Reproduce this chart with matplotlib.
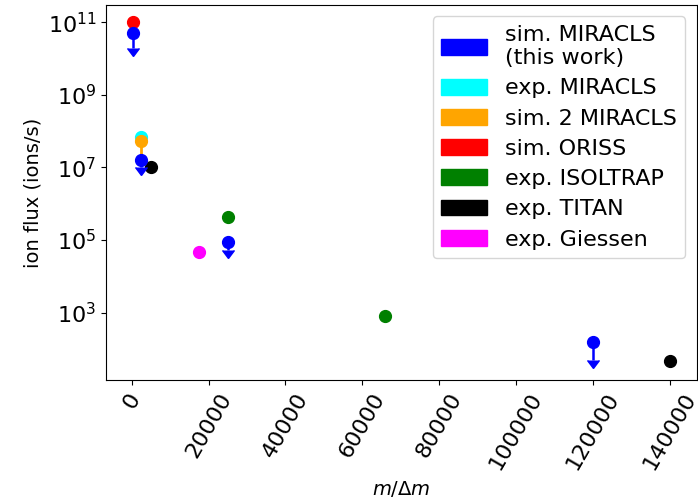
import numpy as np
import matplotlib
matplotlib.use("Agg")
import matplotlib.pyplot as plt
from matplotlib.patches import Patch

# mass resolving power and ion flux for each setup
sim_miracls_x = [300, 2300, 25000, 120000]
sim_miracls_y = [5e10, 1.65e7, 9e4, 150]
sim_miracls_low = [3.0e10, 0.6e7, 3.8e4, 100]   # downward arrows (upper limits)

exp_miracls_x = [2300]
exp_miracls_y = [6.7e7]

sim2_miracls_x = [2300]
sim2_miracls_y = [5.2e7]
sim2_miracls_low = [3.0e7]

sim_oriss_x = [300]
sim_oriss_y = [1e11]

exp_isoltrap_x = [25000, 66000]
exp_isoltrap_y = [4.2e5, 800]

exp_titan_x = [5000, 140000]
exp_titan_y = [1e7, 45]

exp_giessen_x = [17500]
exp_giessen_y = [4.7e4]

labels = ["sim. MIRACLS\n(this work)", "exp. MIRACLS", "sim. 2 MIRACLS",
          "sim. ORISS", "exp. ISOLTRAP", "exp. TITAN", "exp. Giessen"]
colors = ["blue", "cyan", "orange", "red", "green", "black", "magenta"]

fig = plt.figure(figsize=(6.98, 5.03), dpi=100)
ax = fig.add_axes([0.152, 0.245, 0.846, 0.745])

ms = 8.5
ax.plot(sim_oriss_x, sim_oriss_y, "o", color="red", ms=ms)
ax.plot(exp_miracls_x, exp_miracls_y, "o", color="cyan", ms=ms)
ax.errorbar(sim2_miracls_x, sim2_miracls_y,
            yerr=[sim2_miracls_low, np.zeros(1)],
            fmt="o", color="orange", ms=ms, elinewidth=2)
ax.plot(exp_isoltrap_x, exp_isoltrap_y, "o", color="green", ms=ms)
ax.plot(exp_titan_x, exp_titan_y, "o", color="black", ms=ms)
ax.plot(exp_giessen_x, exp_giessen_y, "o", color="magenta", ms=ms)
ax.errorbar(sim_miracls_x, sim_miracls_y,
            yerr=[sim_miracls_low, np.zeros(len(sim_miracls_y))],
            uplims=True, fmt="o", color="blue", ms=ms, elinewidth=1.8, capsize=4)

ax.set_yscale("log")
ax.set_ylim(14, 3e11)
ax.set_yticks([1e3, 1e5, 1e7, 1e9, 1e11])
ax.yaxis.set_minor_locator(matplotlib.ticker.NullLocator())
ax.set_xticks(np.arange(0, 140001, 20000))
ax.tick_params(axis="x", labelrotation=60, labelsize=16)
ax.tick_params(axis="y", labelsize=16)
ax.set_xlabel(r"$m/\Delta m$", fontsize=14)
ax.set_ylabel("ion flux (ions/s)", fontsize=14)

handles = [Patch(color=c, label=l) for c, l in zip(colors, labels)]
ax.legend(handles=handles, loc="upper right", fontsize=16,
          handlelength=2.05, handleheight=0.72, labelspacing=0.46)

fig.savefig("out.png", dpi=100)
